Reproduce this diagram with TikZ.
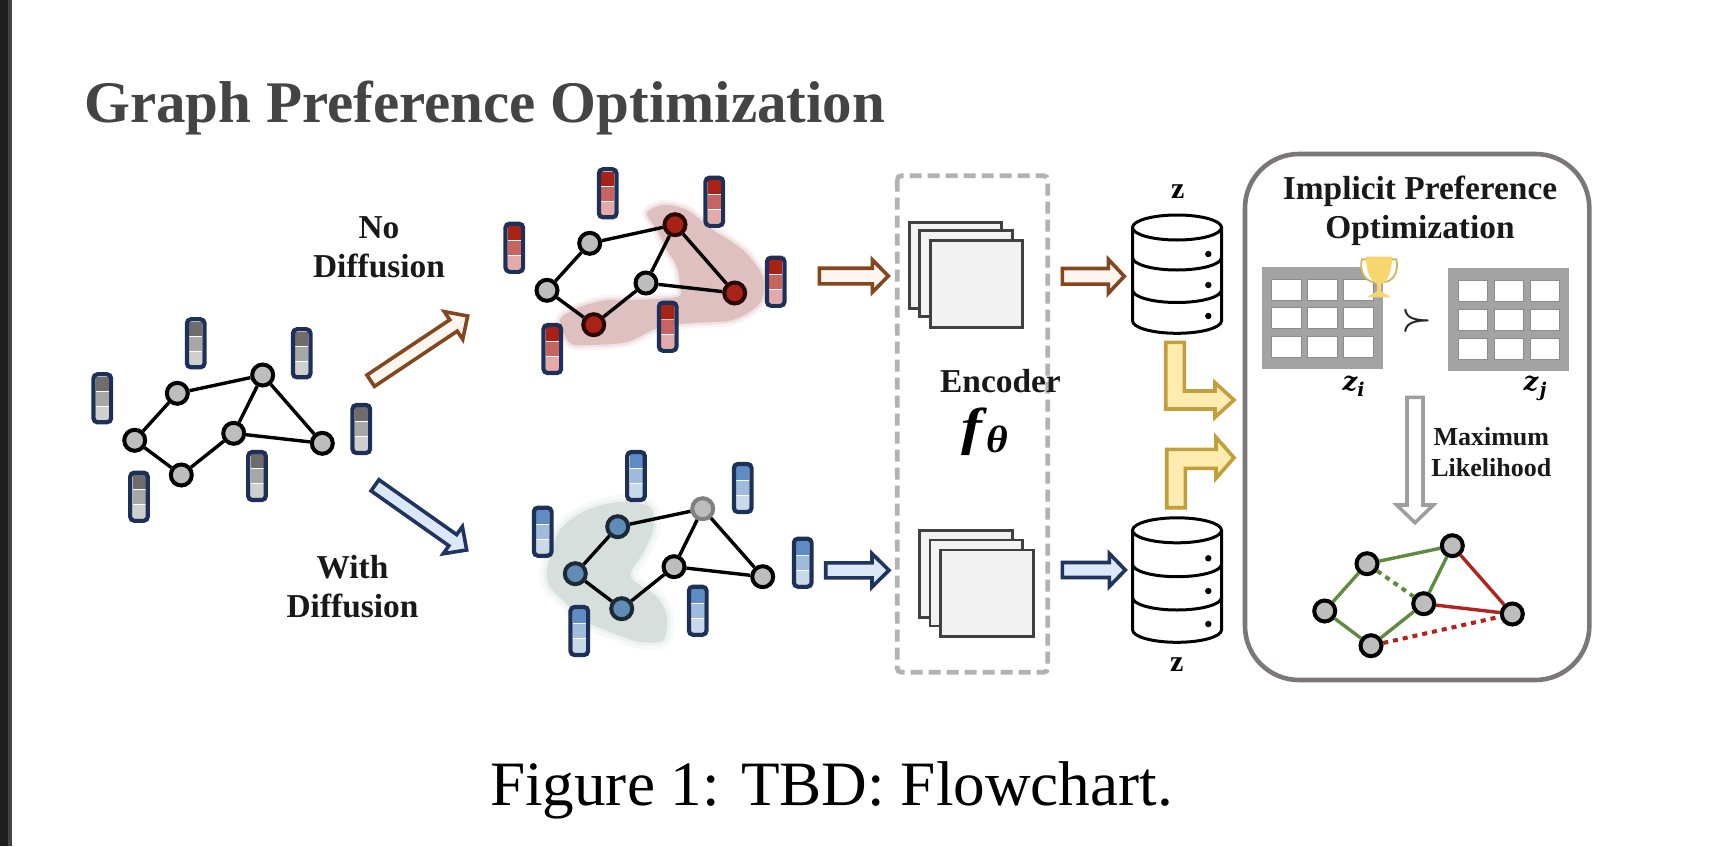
\documentclass[tikz,border=0pt]{standalone}
\usepackage{fontspec}
\setmainfont{Liberation Serif}
\newfontfamily\zfont{DejaVu Serif}
\usetikzlibrary{calc}
\definecolor{navy}{HTML}{1F3058}
\definecolor{brownL}{HTML}{84461F}
\definecolor{brownF}{HTML}{FDF5EE}
\definecolor{blueL}{HTML}{1F3560}
\definecolor{blueF}{HTML}{DCE8F8}
\definecolor{yellL}{HTML}{C19F3A}
\definecolor{yellF}{HTML}{FDEBB0}
\definecolor{nodegray}{HTML}{BDBDBD}
\definecolor{nodered}{HTML}{A82315}
\definecolor{nodeblue}{HTML}{5F8DB5}
\definecolor{edgegreen}{HTML}{5F8A40}
\definecolor{edgered}{HTML}{B1231C}
\definecolor{titlegray}{HTML}{444444}
\definecolor{gold}{HTML}{F7D670}
\definecolor{blobred}{HTML}{DFC0C0}
\definecolor{blobblue}{HTML}{D6DFDC}
\definecolor{gA}{HTML}{706C6C}\definecolor{gB}{HTML}{A7A7A7}\definecolor{gC}{HTML}{D0CFCF}
\definecolor{rA}{HTML}{A82315}\definecolor{rB}{HTML}{C76460}\definecolor{rC}{HTML}{E3AAA9}
\definecolor{bA}{HTML}{5F8CC4}\definecolor{bB}{HTML}{A0BCDC}\definecolor{bC}{HTML}{C8D9EA}
\definecolor{barA}{HTML}{1C1F1E}\definecolor{barB}{HTML}{444444}
\definecolor{boxgray}{HTML}{7B7778}
\tikzset{
  x=0.5pt,y=-0.5pt,
  vert/.style={circle,draw=black,fill=nodegray,line width=2pt,minimum size=10.5pt,inner sep=0pt},
  vred/.style={vert,fill=nodered,draw=black!75!nodered},
  vblue/.style={vert,fill=nodeblue,draw=black!70!nodeblue},
  vfade/.style={vert,draw=black!50},
  link/.style={line width=1.7pt,draw=black},
  linkgreen/.style={line width=1.7pt,draw=edgegreen},
  linkred/.style={line width=1.7pt,draw=edgered},
  dotgreen/.style={line width=2pt,draw=edgegreen,dash pattern=on 2.5pt off 2.5pt},
  dotred/.style={line width=2pt,draw=edgered,dash pattern=on 2.5pt off 2.5pt},
  boldlabel/.style={font=\fontsize{16.7pt}{19pt}\selectfont\bfseries,text=black!90,inner sep=0pt,anchor=base,align=center},
  smalllabel/.style={font=\fontsize{13pt}{15pt}\selectfont\bfseries,text=black!90,inner sep=0pt,anchor=base},
  blockbrown/.style={draw=brownL,fill=brownF,line width=1.8pt,miter limit=10},
  blockblue/.style={draw=blueL,fill=blueF,line width=1.8pt,miter limit=10},
  blockgray/.style={draw=black!38,fill=white,line width=1.8pt,miter limit=10},
  blockyellow/.style={draw=yellL,fill=yellF,line width=1.8pt,miter limit=10},
  sheet/.style={draw=black!75,fill=black!5,line width=1.4pt},
  dbline/.style={draw=black,line width=1.5pt,fill=white},
  cellbox/.style={draw=black!45,fill=white,line width=.5pt},
}
\newcommand{\featbar}[5]{%
  \begin{scope}[shift={(#1,#2)}]
    \fill[#3] (-6.5,-21.7) rectangle (6.5,-7.7);
    \fill[#4] (-6.5,-6.7) rectangle (6.5,7.3);
    \fill[#5] (-6.5,8.3) rectangle (6.5,21.7);
    \draw[navy,line width=2.1pt,rounded corners=2pt] (-8.8,-24) rectangle (8.8,24);
  \end{scope}}
\newcommand{\graybar}[2]{\featbar{#1}{#2}{gA}{gB}{gC}}
\newcommand{\redbar}[2]{\featbar{#1}{#2}{rA}{rB}{rC}}
\newcommand{\bluebar}[2]{\featbar{#1}{#2}{bA}{bB}{bC}}
\newcommand{\blockarrow}[8]{%
  \pgfmathsetmacro{\ang}{atan2(#4-#2,#3-#1)}%
  \pgfmathsetmacro{\lenn}{veclen(#3-#1,#4-#2)}%
  \begin{scope}[shift={(#1,#2)},rotate=-\ang]
    \draw[#8] (0,-#5) -- (\lenn-#7,-#5) -- (\lenn-#7,-#6) -- (\lenn,0) -- (\lenn-#7,#6) -- (\lenn-#7,#5) -- (0,#5) -- cycle;
  \end{scope}}
\newcommand{\dbase}[8]{%
  \draw[dbline] (#1-44.5,#2) -- (#1-44.5,#5) arc[start angle=180,end angle=360,x radius=44.5,y radius=-12.5] -- (#1+44.5,#2);
  \draw[dbline] (#1,#2) ellipse[x radius=44.5,y radius=12.5];
  \draw[dbline,fill=none] (#1-44.5,#3) arc[start angle=180,end angle=360,x radius=44.5,y radius=-12.5];
  \draw[dbline,fill=none] (#1-44.5,#4) arc[start angle=180,end angle=360,x radius=44.5,y radius=-12.5];
  \fill (#1+31.3,#6) circle[radius=3.2] (#1+31.3,#7) circle[radius=3.2] (#1+31.3,#8) circle[radius=3.2];}
\newcommand{\gridtable}[2]{%
  \begin{scope}[shift={(#1,#2)}]
    \fill[black!36] (0,0) rectangle (121,102.5);
    \foreach \cx in {10,46,82}\foreach \cy in {12.3,41.2,70}
      \draw[cellbox] (\cx,\cy) rectangle ++(29.5,21);
  \end{scope}}
\newcommand{\blobred}{plot[smooth cycle,tension=.5] coordinates {(647,213)(663,205)(687,210)(713,230)(743,250)(763,277)(760,303)(733,320)(693,323)(660,327)(627,342)(590,345)(570,343)(560,320)(580,307)(607,300)(630,300)(677,297)(680,287)(677,267)(667,250)(657,230)}}
\newcommand{\blobblue}{plot[smooth cycle,tension=.5] coordinates {(547,570)(560,530)(587,510)(620,502)(650,507)(653,530)(643,553)(632,570)(633,580)(657,597)(667,617)(663,640)(640,642)(613,633)(583,620)(563,600)(550,587)}}
\begin{document}
\begin{tikzpicture}
\useasboundingbox (0,0) rectangle (1712,846);
\fill[white] (0,0) rectangle (1712,846);
\fill[barA] (0,0) rectangle (8,846);
\fill[barB] (8,0) rectangle (12,846);
\node[font=\fontsize{29.5pt}{33pt}\selectfont\bfseries,text=titlegray,anchor=base west,inner sep=0pt] (title) at (84,122) {Graph Preference Optimization};
\node[font=\fontsize{31.6pt}{35pt}\selectfont,text=black,anchor=base,inner sep=0pt] (caption) at (831.5,805) {Figure 1: TBD: Flowchart.};
% blobs with a soft edge
\draw[blobred,opacity=.18,line width=5pt,line join=round] \blobred;
\draw[blobred,opacity=.3,line width=2.5pt,line join=round] \blobred;
\fill[blobred] \blobred;
\draw[blobblue,opacity=.18,line width=7pt,line join=round] \blobblue;
\draw[blobblue,opacity=.3,line width=3pt,line join=round] \blobblue;
\fill[blobblue] \blobblue;
% graph 0
\node[vert] (a0) at (134.7,440.3) {};
\node[vert] (b0) at (177.3,393.3) {};
\node[vert] (c0) at (262.7,375) {};
\node[vert] (d0) at (233.7,433.3) {};
\node[vert] (e0) at (322.3,443.3) {};
\node[vert] (f0) at (181.3,475) {};
\draw[link] (a0)--(b0) (b0)--(c0) (c0)--(d0) (c0)--(e0) (d0)--(e0) (d0)--(f0) (f0)--(a0);
\graybar{102.3}{398.3}\graybar{195.7}{343.3}\graybar{301.7}{353.3}\graybar{361.3}{429}\graybar{257}{476}\graybar{139}{496.7}
% graph red
\node[vert] (a1) at (547,290.3) {};
\node[vert] (b1) at (589.7,243.3) {};
\node[vred] (c1) at (675,224.7) {};
\node[vert] (d1) at (646,283) {};
\node[vred] (e1) at (734.7,293) {};
\node[vred] (f1) at (593.7,324.7) {};
\draw[link] (a1)--(b1) (b1)--(c1) (c1)--(d1) (c1)--(e1) (d1)--(e1) (d1)--(f1) (f1)--(a1);
\redbar{514.3}{247.7}\redbar{607.7}{193.3}\redbar{714.3}{201.7}\redbar{775.7}{281.7}\redbar{667.7}{326.7}\redbar{552.3}{349}
% graph blue
\node[vblue] (a2) at (575.3,573.7) {};
\node[vblue] (b2) at (617.7,526.7) {};
\node[vfade] (c2) at (702.7,508.7) {};
\node[vert] (d2) at (674,566.7) {};
\node[vert] (e2) at (762.7,576.7) {};
\node[vblue] (f2) at (621.7,608.7) {};
\draw[link] (a2)--(b2) (b2)--(c2) (c2)--(d2) (c2)--(e2) (d2)--(e2) (d2)--(f2) (f2)--(a2);
\bluebar{542.7}{531.7}\bluebar{636}{476}\bluebar{742.7}{488}\bluebar{802.7}{562.7}\bluebar{697.7}{610.7}\bluebar{579.3}{631}
% graph result
\node[vert] (a3) at (1324.7,611) {};
\node[vert] (b3) at (1367,563.7) {};
\node[vert] (c3) at (1452.3,545.7) {};
\node[vert] (d3) at (1423.7,603.7) {};
\node[vert] (e3) at (1512.3,614) {};
\node[vert] (f3) at (1371,645.7) {};
\draw[linkgreen] (a3)--(b3) (b3)--(c3) (c3)--(d3) (d3)--(f3) (f3)--(a3);
\draw[linkred] (c3)--(e3) (d3)--(e3);
\draw[dotgreen] (b3)--(d3);
\draw[dotred] (f3)--(e3);
% arrows
\blockarrow{370.7}{380.7}{467.7}{316}{6.8}{16.6}{17}{blockbrown}
\blockarrow{375}{485.3}{466.7}{550}{6.8}{16.6}{17}{blockblue}
\blockarrow{819.3}{276}{888.3}{276}{7.8}{16.3}{16}{blockbrown}
\blockarrow{825.7}{570.3}{889}{570.3}{7.5}{16.7}{17}{blockblue}
\blockarrow{1062.3}{276.3}{1124.3}{276.3}{7.8}{17}{16}{blockbrown}
\blockarrow{1062.3}{570}{1125.3}{570}{7.5}{16.5}{16}{blockblue}
% labels
\node[boldlabel] (nodiff1) at (379,238.5) {No};
\node[boldlabel] (nodiff2) at (379,277.5) {Diffusion};
\node[boldlabel] (wdiff1) at (352.5,578.5) {With};
\node[boldlabel] (wdiff2) at (352.5,617.5) {Diffusion};
% encoder
\draw[draw=black!30,line width=2.4pt,dash pattern=on 6pt off 3pt,rounded corners=2pt] (897.3,175.7) rectangle (1047.7,672.3);
\draw[sheet] (909.3,222.3) rectangle (1001.7,308.3);
\draw[sheet] (919.3,230.7) rectangle (1012.7,316.7);
\draw[sheet] (930.7,240.7) rectangle (1022.7,327.7);
\draw[sheet] (919.3,530.7) rectangle (1012.7,617.3);
\draw[sheet] (930,540) rectangle (1022.3,626);
\draw[sheet] (940.7,550) rectangle (1033.3,636.7);
\node[boldlabel] (enc) at (1000.5,392.5) {Encoder};
\node[font=\fontsize{26pt}{30pt}\selectfont\bfseries\itshape,anchor=base,inner sep=0pt,xscale=1.2] (fth) at (971.5,444) {f};
\node[font=\fontsize{19pt}{22pt}\selectfont\bfseries\itshape,anchor=base,inner sep=0pt,xscale=1.1] (theta) at (997.3,452) {θ};
% databases
\dbase{1177}{227.5}{257.5}{290}{320.8}{254}{285}{316}
\dbase{1177}{530.3}{564.2}{597.5}{629.8}{558.3}{591}{624}
\node[font=\fontsize{15pt}{18pt}\selectfont\bfseries,anchor=base,inner sep=0pt] (z1) at (1177.7,198) {z};
\node[font=\fontsize{15pt}{18pt}\selectfont\bfseries,anchor=base,inner sep=0pt] (z2) at (1176.7,671) {z};
% yellow arrows
\draw[blockyellow] (1165.7,342.3)--(1184.3,342.3)--(1184.3,391)--(1215,391)--(1215,382.7)--(1234,400)--(1215,417.3)--(1215,409)--(1165.7,409)--cycle;
\draw[blockyellow] (1166.7,507.7)--(1185.3,507.7)--(1185.3,468.3)--(1216,468.3)--(1216,478.3)--(1234,457.7)--(1216,437.3)--(1216,449.3)--(1166.7,449.3)--cycle;
% right box
\draw[draw=boxgray,line width=2.3pt,rounded corners=27pt] (1245,154) rectangle (1589.3,680);
\node[boldlabel] (ipo1) at (1420,199) {Implicit Preference};
\node[boldlabel] (ipo2) at (1420,238) {Optimization};
\gridtable{1261.7}{266.7}
\gridtable{1448.3}{268}
% trophy
\begin{scope}[shift={(1230,140)},x=0.1667pt,y=-0.1667pt]
  \draw[draw=gold!85!black,line width=.9pt,fill=white] (395,358) .. controls (388,395) and (405,420) .. (425,425) -- (469,425) .. controls (490,420) and (507,395) .. (499,358) -- cycle;
  \fill[gold] (408,350) -- (486,350) .. controls (486,400) and (470,425) .. (453,432) -- (453,452) .. controls (455,460) and (475,462) .. (481,472) -- (412,472) .. controls (418,462) and (438,460) .. (441,452) -- (441,432) .. controls (424,425) and (408,400) .. (408,350) -- cycle;
\end{scope}
\node[font=\fontsize{19pt}{22pt}\selectfont\boldmath,inner sep=0pt,text=black!85] (succ) at (1417,321) {$\succ$};
\node[font=\fontsize{13pt}{14pt}\selectfont\zfont\bfseries\itshape,anchor=base,inner sep=0pt] (zi) at (1350,390) {z};
\node[font=\fontsize{9.5pt}{11pt}\selectfont\zfont\bfseries\itshape,anchor=base,inner sep=0pt] (zis) at (1361,396) {i};
\node[font=\fontsize{13pt}{14pt}\selectfont\zfont\bfseries\itshape,anchor=base,inner sep=0pt] (zj) at (1531,390) {z};
\node[font=\fontsize{9.5pt}{11pt}\selectfont\zfont\bfseries\itshape,anchor=base,inner sep=0pt] (zjs) at (1543,396) {j};
\blockarrow{1415}{397.3}{1415}{522.7}{8}{18.3}{17.7}{blockgray}
\node[smalllabel] (ml1) at (1491.3,445) {Maximum};
\node[smalllabel] (ml2) at (1491.3,476) {Likelihood};
\end{tikzpicture}
\end{document}
